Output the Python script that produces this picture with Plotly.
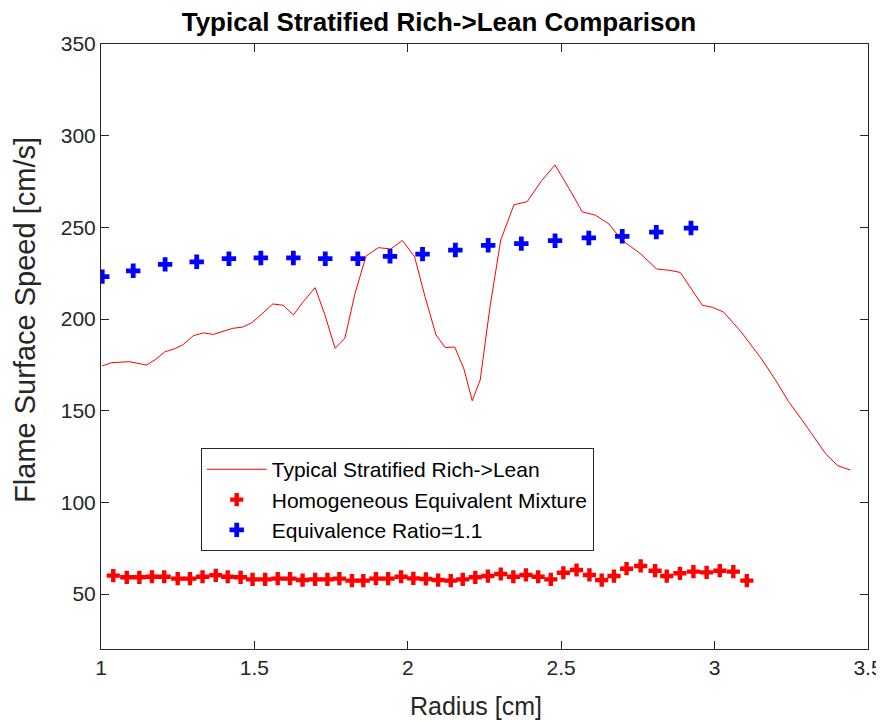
import plotly.graph_objects as go

# Typical stratified rich->lean (red line)
strat_x = [1.004, 1.035, 1.092, 1.149, 1.178, 1.209, 1.236, 1.266, 1.301, 1.334, 1.366, 1.399,
           1.429, 1.462, 1.492, 1.524, 1.560, 1.594, 1.627, 1.659, 1.698, 1.730, 1.763, 1.795,
           1.828, 1.864, 1.904, 1.945, 1.982, 2.022, 2.056, 2.092, 2.122, 2.153, 2.183, 2.210,
           2.236, 2.268, 2.303, 2.346, 2.389, 2.436, 2.480, 2.525, 2.569, 2.612, 2.656, 2.697,
           2.757, 2.811, 2.855, 2.888, 2.927, 2.960, 2.993, 3.029, 3.087, 3.153, 3.197, 3.241,
           3.285, 3.324, 3.362, 3.401, 3.443]
strat_y = [174.4, 176.2, 176.7, 174.9, 178.0, 182.2, 183.5, 185.8, 190.9, 192.4, 191.6, 193.4,
           194.9, 195.6, 198.0, 202.7, 208.2, 207.5, 202.2, 209.4, 217.1, 202.2, 184.0, 189.5,
           214.0, 234.4, 238.9, 238.2, 242.9, 234.0, 212.2, 191.3, 184.4, 184.7, 172.7, 155.4,
           166.7, 206.7, 243.1, 262.3, 264.0, 275.4, 284.0, 271.3, 258.4, 256.6, 251.8, 243.1,
           235.8, 227.3, 226.5, 225.4, 215.4, 207.5, 206.4, 203.8, 192.9, 178.2, 167.1, 155.0,
           144.9, 135.7, 126.5, 120.0, 117.6]

# Homogeneous equivalent mixture (red plus markers)
homo_x = [1.040, 1.084, 1.125, 1.166, 1.206, 1.250, 1.290, 1.331, 1.374, 1.413, 1.455, 1.494,
          1.535, 1.576, 1.616, 1.657, 1.698, 1.738, 1.777, 1.818, 1.855, 1.896, 1.936, 1.978,
          2.018, 2.059, 2.099, 2.140, 2.179, 2.220, 2.261, 2.303, 2.344, 2.385, 2.425, 2.466,
          2.507, 2.550, 2.592, 2.632, 2.672, 2.713, 2.759, 2.806, 2.844, 2.887, 2.931, 2.974,
          3.017, 3.061, 3.105]
homo_y = [60.0, 59.1, 59.1, 59.4, 59.4, 58.4, 58.4, 59.4, 60.2, 59.4, 59.1, 58.0,
          58.0, 58.4, 58.4, 57.6, 58.0, 58.0, 58.4, 57.3, 57.3, 58.4, 58.4, 59.4,
          58.5, 58.2, 57.6, 57.3, 58.0, 59.1, 59.8, 60.9, 59.4, 60.4, 59.4, 58.0,
          61.6, 63.1, 60.4, 57.6, 59.8, 63.8, 65.3, 62.7, 59.8, 61.3, 62.2, 61.8,
          62.7, 62.2, 57.3]

# Equivalence ratio = 1.1 (blue plus markers)
phi_x = [1.004, 1.105, 1.209, 1.312, 1.417, 1.521, 1.627, 1.731, 1.837, 1.942, 2.048, 2.155,
         2.262, 2.370, 2.480, 2.590, 2.699, 2.810, 2.923]
phi_y = [223.1, 226.3, 229.8, 231.2, 232.9, 233.3, 233.3, 232.9, 232.9, 234.2, 235.4, 237.6,
         240.2, 241.1, 242.7, 244.2, 245.1, 247.4, 249.6]

x_ticks = [1, 1.5, 2, 2.5, 3, 3.5]
y_ticks = [50, 100, 150, 200, 250, 300, 350]

FONT = "Liberation Sans, Arial, Helvetica, sans-serif"
AX = "#262626"

fig = go.Figure()
fig.add_trace(go.Scatter(x=strat_x, y=strat_y, mode="lines",
                         line=dict(color="#ff0000", width=1),
                         name="Typical Stratified Rich->Lean"))
fig.add_trace(go.Scatter(x=homo_x, y=homo_y, mode="markers",
                         marker=dict(symbol="cross", size=11, color="#ff0000", line=dict(width=0)),
                         name="Homogeneous Equivalent Mixture"))
fig.add_trace(go.Scatter(x=phi_x, y=phi_y, mode="markers",
                         marker=dict(symbol="cross", size=12, color="#0000ff", line=dict(width=0)),
                         name="Equivalence Ratio=1.1"))

axis_common = dict(showgrid=False, zeroline=False, showline=True, linecolor=AX, linewidth=1,
                   mirror="ticks", ticks="inside", ticklen=8, tickcolor=AX, tickwidth=1,
                   automargin=False,
                   tickfont=dict(family=FONT, size=21, color=AX))

fig.update_xaxes(range=[1, 3.5], tickvals=x_ticks, ticktext=[str(v) for v in x_ticks], **axis_common)
fig.update_yaxes(range=[20, 350], tickvals=y_ticks, **axis_common)

fig.add_annotation(text="Radius [cm]", xref="paper", yref="paper", x=0.489, y=-0.094,
                   xanchor="center", yanchor="middle", showarrow=False,
                   font=dict(family=FONT, size=25, color=AX))
fig.add_annotation(text="Flame Surface Speed [cm/s]", xref="paper", yref="paper", x=-0.0991, y=0.544,
                   xanchor="center", yanchor="middle", showarrow=False, textangle=-90,
                   font=dict(family=FONT, size=29, color=AX))

# page body has an 8px default margin, so the figure is sized/offset to compensate
fig.update_layout(
    width=876, height=713,
    margin=dict(l=93, r=16, t=36, b=72),
    plot_bgcolor="white", paper_bgcolor="white",
    title=dict(text="<b>Typical Stratified Rich->Lean Comparison</b>",
               font=dict(family=FONT, size=26, color="black"),
               x=0.492, xref="container", xanchor="center",
               y=0.980, yref="container", yanchor="middle"),
    legend=dict(x=0.130, y=0.332, xanchor="left", yanchor="top",
                bgcolor="white", bordercolor=AX, borderwidth=1,
                font=dict(family=FONT, size=21, color="black"),
                itemwidth=60, tracegroupgap=0),
    showlegend=True,
)

fig.write_html("out.html")
